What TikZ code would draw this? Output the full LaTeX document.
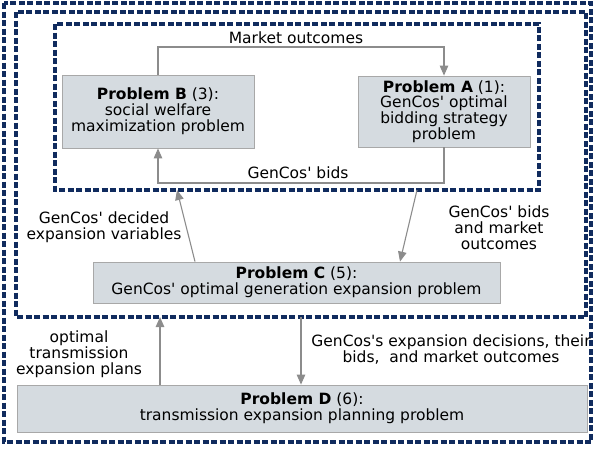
\documentclass[tikz,border=0pt]{standalone}
\usepackage{fontspec}
\setmainfont{DejaVu Sans}[Ligatures=TeXOff]
\usetikzlibrary{arrows.meta}
\definecolor{navy}{HTML}{102B5E}
\definecolor{boxfill}{HTML}{D5DBE0}
\definecolor{boxline}{HTML}{A8A8A8}
\definecolor{arrgray}{HTML}{8C8C8C}
\tikzset{
  frame/.style={draw=navy, line width=3.2pt, dash pattern=on 6pt off 2.5pt},
  probbox/.style={draw=boxline, fill=boxfill, line width=0.8pt, align=center, inner sep=0pt},
  lbl/.style={align=center, inner sep=0pt},
  conn/.style={draw=arrgray, line width=1.1pt},
  arr/.style={conn, -{Triangle[length=10pt, width=8.5pt]}},
}
\begin{document}
\begin{tikzpicture}[x=1pt, y=-1pt, font=\fontsize{15.5}{15.8}\selectfont]
\useasboundingbox (0,0) rectangle (594,448);
% frames
\draw[frame] (4,3) rectangle (591,442);
\draw[frame] (16,12) rectangle (586,317);
\draw[frame] (55,24) rectangle (539,190);
% boxes
\node[probbox, minimum width=192pt, minimum height=73pt] (B) at (158,111.5) {\textbf{Problem B} (3):\\social welfare\\maximization problem};
\node[probbox, minimum width=172pt, minimum height=71pt] (A) at (444,111.5) {\textbf{Problem A} (1):\\GenCos' optimal\\bidding strategy\\problem};
\node[probbox, minimum width=407pt, minimum height=41pt] (C) at (296.5,282.5) {\textbf{Problem C} (5):\\GenCos' optimal generation expansion problem};
\node[probbox, minimum width=570pt, minimum height=47pt] (D) at (302,408.5) {\textbf{Problem D} (6):\\transmission expansion planning problem};
% coordinates
\coordinate (mo) at (158,47);
\coordinate (mo2) at (444,47);
\coordinate (gb) at (444,183);
\coordinate (gb2) at (158,183);
\coordinate (ib1) at (417,190);
\coordinate (ib2) at (177,190);
\coordinate (mb1) at (160,317);
\coordinate (mb2) at (301,317);
% connectors
\draw[arr] (B.north -| mo) -- (mo) -- (mo2) -- (A.north -| mo2);
\draw[arr] (A.south -| gb) -- (gb) -- (gb2) -- (B.south -| gb2);
\draw[arr] (ib1) -- (C.north -| 400,0);
\draw[arr] (C.north -| 195,0) -- (ib2);
\draw[arr] (D.north -| mb1) -- (mb1);
\draw[arr] (mb2) -- (D.north -| mb2);
% labels
\node[lbl] (l1) at (296,38) {Market outcomes};
\node[lbl] (l2) at (298,173) {GenCos' bids};
\node[lbl] (l3) at (104,227) {GenCos' decided\\expansion variables};
\node[lbl] (l4) at (499,228) {GenCos' bids\\and market\\outcomes};
\node[lbl] (l5) at (79,354) {optimal\\transmission\\expansion plans};
\node[lbl] (l6) at (451,349.5) {GenCos's expansion decisions, their\\bids,\ \ and market outcomes};
\end{tikzpicture}
\end{document}
